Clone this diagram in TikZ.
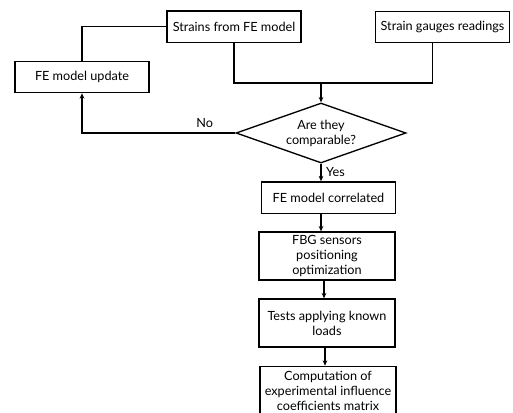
\documentclass[tikz,border=0pt]{standalone}
\usepackage{fontspec}
\setmainfont{Lato}
\usetikzlibrary{shapes.geometric,arrows.meta,positioning}

\begin{document}
\begin{tikzpicture}[x=0.75pt, y=-0.75pt,
    every node/.style = {font=\fontsize{9.5}{11.2}\selectfont},
    box/.style = {draw, line width=1pt, minimum width=100.5pt, minimum height=23.5pt, align=center, inner sep=2pt},
    tallbox/.style = {box, minimum width=102pt, minimum height=36pt},
    decision/.style = {draw, diamond, aspect=2.83, line width=1pt, minimum width=127.5pt, minimum height=45pt, inner sep=0pt, align=center},
    flow/.style = {line width=1pt},
    arr/.style = {flow, -{Stealth[length=4pt,width=3.5pt]}}]
    % page size
    \useasboundingbox (0,0) rectangle (513,412);
    % Draw the boxes
    \node[box] (fem) at (234,26.5) {Strains from FE model};
    \node[box] (sg) at (442.5,27) {Strain gauges readings};
    \node[box] (upd) at (82,77) {FE model update};
    \node[decision] (cmp) at (321,133) {Are they\\comparable?};
    \node[box] (cor) at (328.5,197.5) {FE model correlated};
    \node[tallbox] (fbg) at (327,256) {FBG sensors\\positioning\\optimization};
    \node[tallbox] (tst) at (327,323) {Tests applying known\\loads};
    \node[tallbox, minimum height=37pt] (cmx) at (328,391) {Computation of\\experimental influence\\coefficients matrix};

    % Draw the connectors
    \coordinate (join) at (321,83);
    \draw[flow] (fem.south) |- (join) -| ([xshift=-7.5pt]sg.south);
    \draw[arr] (join) -- (cmp.north);
    \draw[flow] (fem.west) -| (upd.north);
    \draw[arr] (cmp.west) -| node[pos=0.1, above] {No} (upd.south);
    \draw[arr] (cmp.south) -- node[right] {Yes} (cmp.south |- cor.north);
    \draw[arr] (cmp.south |- cor.south) -- (cmp.south |- fbg.north);
    \draw[arr] ([xshift=-2.25pt]fbg.south) -- ([xshift=-2.25pt]fbg.south |- tst.north);
    \draw[arr] ([xshift=-1.5pt]tst.south) -- ([xshift=-1.5pt]tst.south |- cmx.north);
\end{tikzpicture}
\end{document}
